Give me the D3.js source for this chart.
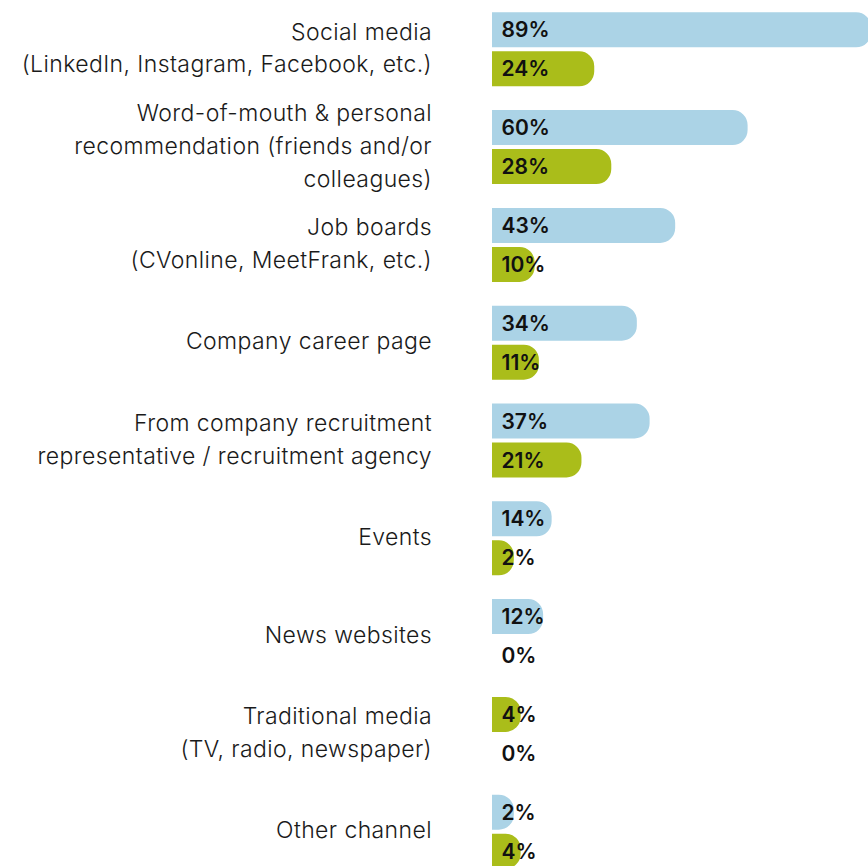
<!DOCTYPE html>
<html>
<head>
<meta charset="utf-8">
<script src="https://cdn.jsdelivr.net/npm/d3@7/dist/d3.min.js"></script>
<style>
  html, body { margin: 0; padding: 0; background: #ffffff; }
  svg { display: block; }
</style>
</head>
<body>
<div id="chart"></div>
<script>
// Where people hear about job offers: two survey groups per channel
const categories = [
  "Social media\n(LinkedIn, Instagram, Facebook, etc.)",
  "Word-of-mouth & personal\nrecommendation (friends and/or\ncolleagues)",
  "Job boards\n(CVonline, MeetFrank, etc.)",
  "Company career page",
  "From company recruitment\nrepresentative / recruitment agency",
  "Events",
  "News websites",
  "Traditional media\n(TV, radio, newspaper)",
  "Other channel"
];
const seriesKeys = ["a", "b"];
const seriesA = [89, 60, 43, 34, 37, 14, 12, 4, 2];
const seriesB = [24, 28, 10, 11, 21, 2, 0, 0, 4];
// channels whose first bar is shown in the second colour
const firstBarGreen = ["Traditional media\n(TV, radio, newspaper)"];

const W = 868, H = 866;
const BLUE = "#abd3e6", GREEN = "#aabd1a";

const svg = d3.select("#chart").append("svg")
  .attr("width", W).attr("height", H)
  .attr("viewBox", `0 0 ${W} ${H}`);

const rows = categories.map((c, i) => ({ cat: c, a: seriesA[i], b: seriesB[i] }));

const y0 = d3.scaleBand()
  .domain(categories)
  .range([12.3, 868.7])
  .paddingInner(0.2434)
  .paddingOuter(0);

const y1 = d3.scaleBand()
  .domain(seriesKeys)
  .range([0, y0.bandwidth()])
  .paddingInner(4 / 39);

const x = d3.scaleLinear().domain([0, 100]).range([492, 492 + 426]);

const r = 15;
const bh = y1.bandwidth();

// Bar with a rounded right end; tiny bars keep a visible cap
function barPath(v) {
  const len = x(v) - x(0);
  if (v <= 0) return null;
  const w = len < 2 * r ? r + len * 0.8 : len;
  const rx = Math.min(r, w);
  const ry = Math.min(r, bh / 2);
  const x0 = x(0);
  return `M${x0},0 H${x0 + w - rx} A${rx},${ry} 0 0 1 ${x0 + w},${ry}` +
         ` V${bh - ry} A${rx},${ry} 0 0 1 ${x0 + w - rx},${bh} H${x0} Z`;
}

const group = svg.append("g").selectAll("g.row")
  .data(rows).join("g")
  .attr("class", "row")
  .attr("transform", d => `translate(0,${y0(d.cat)})`);

const bars = group.selectAll("g.bar")
  .data(d => seriesKeys.map(k => ({ key: k, value: d[k], cat: d.cat })))
  .join("g")
  .attr("class", "bar")
  .attr("transform", d => `translate(0,${y1(d.key)})`);

bars.append("path")
  .attr("d", d => barPath(d.value))
  .attr("fill", d => d.key === "a" && !firstBarGreen.includes(d.cat) ? BLUE : GREEN);

bars.append("text")
  .attr("x", x(0) + 9.5)
  .attr("y", bh / 2)
  .attr("dy", "0.36em")
  .attr("font-family", "Inter, 'Noto Sans', sans-serif")
  .attr("font-weight", 600)
  .attr("font-size", 21)
  .attr("fill", "#111111")
  .text(d => d.value + "%");

// Category labels, right-aligned and centred on each group
const labels = group.append("text")
  .attr("text-anchor", "end")
  .attr("font-family", "Inter, 'Noto Sans', sans-serif")
  .attr("font-weight", 300)
  .attr("font-size", 23)
  .attr("letter-spacing", 0.4)
  .attr("fill", "#1a1a1a");

const lineH = 32.8;
labels.each(function(d) {
  const lines = d.cat.split("\n");
  const t = d3.select(this);
  const startY = y0.bandwidth() / 2 - (lines.length - 1) * lineH / 2 - 1.5;
  lines.forEach((ln, i) => {
    t.append("tspan")
      .attr("x", 432)
      .attr("y", startY + i * lineH)
      .attr("dy", "0.36em")
      .text(ln);
  });
});
</script>
</body>
</html>
